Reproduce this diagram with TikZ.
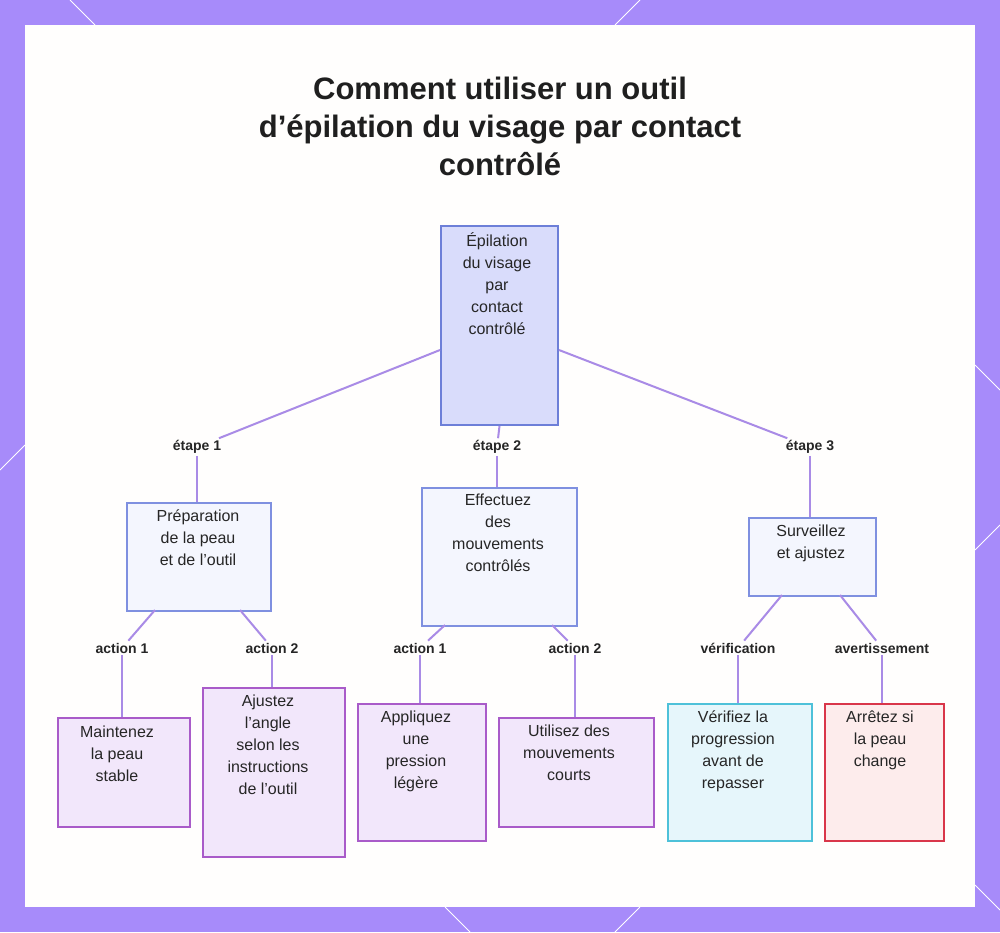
\documentclass[tikz,border=0pt]{standalone}
\usepackage{fontspec}
\setmainfont{Liberation Sans}
\newcommand{\ap}{\char39 }
\begin{document}
\begin{tikzpicture}[x=1pt,y=-1pt,
  box/.style={draw, line width=2pt, anchor=north west, inner sep=0pt},
  txt/.style={anchor=north, align=center, font=\fontsize{16}{22}\selectfont, inner sep=0pt, text=black!85},
  lab/.style={font=\bfseries\fontsize{14}{16}\selectfont, inner sep=2pt, text=black!85},
  conn/.style={draw=edge, line width=2pt}]
\definecolor{frame}{HTML}{A78BFA}
\definecolor{edge}{HTML}{A98BE6}
\definecolor{rootf}{HTML}{D9DCFB}\definecolor{rootd}{HTML}{6D7FD8}
\definecolor{midf}{HTML}{F4F6FE}\definecolor{midd}{HTML}{7F90E0}
\definecolor{leaff}{HTML}{F2E7FB}\definecolor{leafd}{HTML}{A95BC9}
\definecolor{cyf}{HTML}{E6F6FB}\definecolor{cyd}{HTML}{4EC1D9}
\definecolor{redf}{HTML}{FDECEC}\definecolor{redd}{HTML}{D9364A}
\useasboundingbox (0,0) rectangle (1000,932);
\fill[frame] (0,0) rectangle (1000,932);
\begin{scope}[white, line width=1pt]
\draw (70,0) -- (95,25); \draw (640,0) -- (615,25);
\draw (0,470) -- (25,445); \draw (975,365) -- (1000,390);
\draw (975,550) -- (1000,525); \draw (975,885) -- (1000,910);
\draw (445,907) -- (470,932); \draw (640,907) -- (615,932);
\end{scope}
\fill[white!97!orange!40!white] (25,25) rectangle (975,907);
\fill[white, opacity=0.6] (25,25) rectangle (975,907);
\node[font=\bfseries\fontsize{31}{38}\selectfont, align=center, text=black!88, anchor=north] (title) at (500,73)
 {Comment utiliser un outil\\d\ap épilation du visage par contact\\contrôlé};

\node[box, fill=rootf, draw=rootd, minimum width=117pt, minimum height=199pt] (r) at (440,225) {};
\node[txt] (rt) at (497,232) {Épilation\\du visage\\par\\contact\\contrôlé};
\node[box, fill=midf, draw=midd, minimum width=144pt, minimum height=108pt] (a) at (126,502) {};
\node[txt] at (198,510) {Préparation\\de la peau\\et de l\ap outil};
\node[box, fill=midf, draw=midd, minimum width=155pt, minimum height=138pt] (b) at (421,487) {};
\node[txt] at (498,494) {Effectuez\\des\\mouvements\\contrôlés};
\node[box, fill=midf, draw=midd, minimum width=127pt, minimum height=78pt] (c) at (748,517) {};
\node[txt] at (811,525) {Surveillez\\et ajustez};

\node[box, fill=leaff, draw=leafd, minimum width=132pt, minimum height=109pt] (l1) at (57,717) {};
\node[txt] at (117,726) {Maintenez\\la peau\\stable};
\node[box, fill=leaff, draw=leafd, minimum width=142pt, minimum height=169pt] (l2) at (202,687) {};
\node[txt] at (268,695) {Ajustez\\l\ap angle\\selon les\\instructions\\de l\ap outil};
\node[box, fill=leaff, draw=leafd, minimum width=128pt, minimum height=137pt] (l3) at (357,703) {};
\node[txt] at (416,711) {Appliquez\\une\\pression\\légère};
\node[box, fill=leaff, draw=leafd, minimum width=155pt, minimum height=109pt] (l4) at (498,717) {};
\node[txt] at (569,725) {Utilisez des\\mouvements\\courts};
\node[box, fill=cyf, draw=cyd, minimum width=144pt, minimum height=137pt] (l5) at (667,703) {};
\node[txt] at (733,711) {Vérifiez la\\progression\\avant de\\repasser};
\node[box, fill=redf, draw=redd, minimum width=119pt, minimum height=137pt] (l6) at (824,703) {};
\node[txt] at (880,711) {Arrêtez si\\la peau\\change};

\node[lab] (e1) at (197,447) {étape 1};
\node[lab] (e2) at (497,447) {étape 2};
\node[lab] (e3) at (810,447) {étape 3};
\node[lab] (a1) at (122,648) {action 1};
\node[lab] (a2) at (272,648) {action 2};
\node[lab] (b1) at (420,648) {action 1};
\node[lab] (b2) at (575,648) {action 2};
\node[lab] (c1) at (738,648) {vérification};
\node[lab] (c2) at (882,648) {avertissement};

\draw[conn] (r.west |- 0,350) -- (e1); \draw[conn] (e1) -- (e1 |- a.north);
\draw[conn] (r.south) -- (e2); \draw[conn] (e2) -- (e2 |- b.north);
\draw[conn] (r.east |- 0,350) -- (e3); \draw[conn] (e3) -- (e3 |- c.north);
\draw[conn] (155,610) -- (a1); \draw[conn] (a1) -- (a1 |- l1.north);
\draw[conn] (240,610) -- (a2); \draw[conn] (a2) -- (a2 |- l2.north);
\draw[conn] (445,625) -- (b1); \draw[conn] (b1) -- (b1 |- l3.north);
\draw[conn] (552,625) -- (b2); \draw[conn] (b2) -- (b2 |- l4.north);
\draw[conn] (782,595) -- (c1); \draw[conn] (c1) -- (c1 |- l5.north);
\draw[conn] (840,595) -- (c2); \draw[conn] (c2) -- (c2 |- l6.north);
\end{tikzpicture}
\end{document}
